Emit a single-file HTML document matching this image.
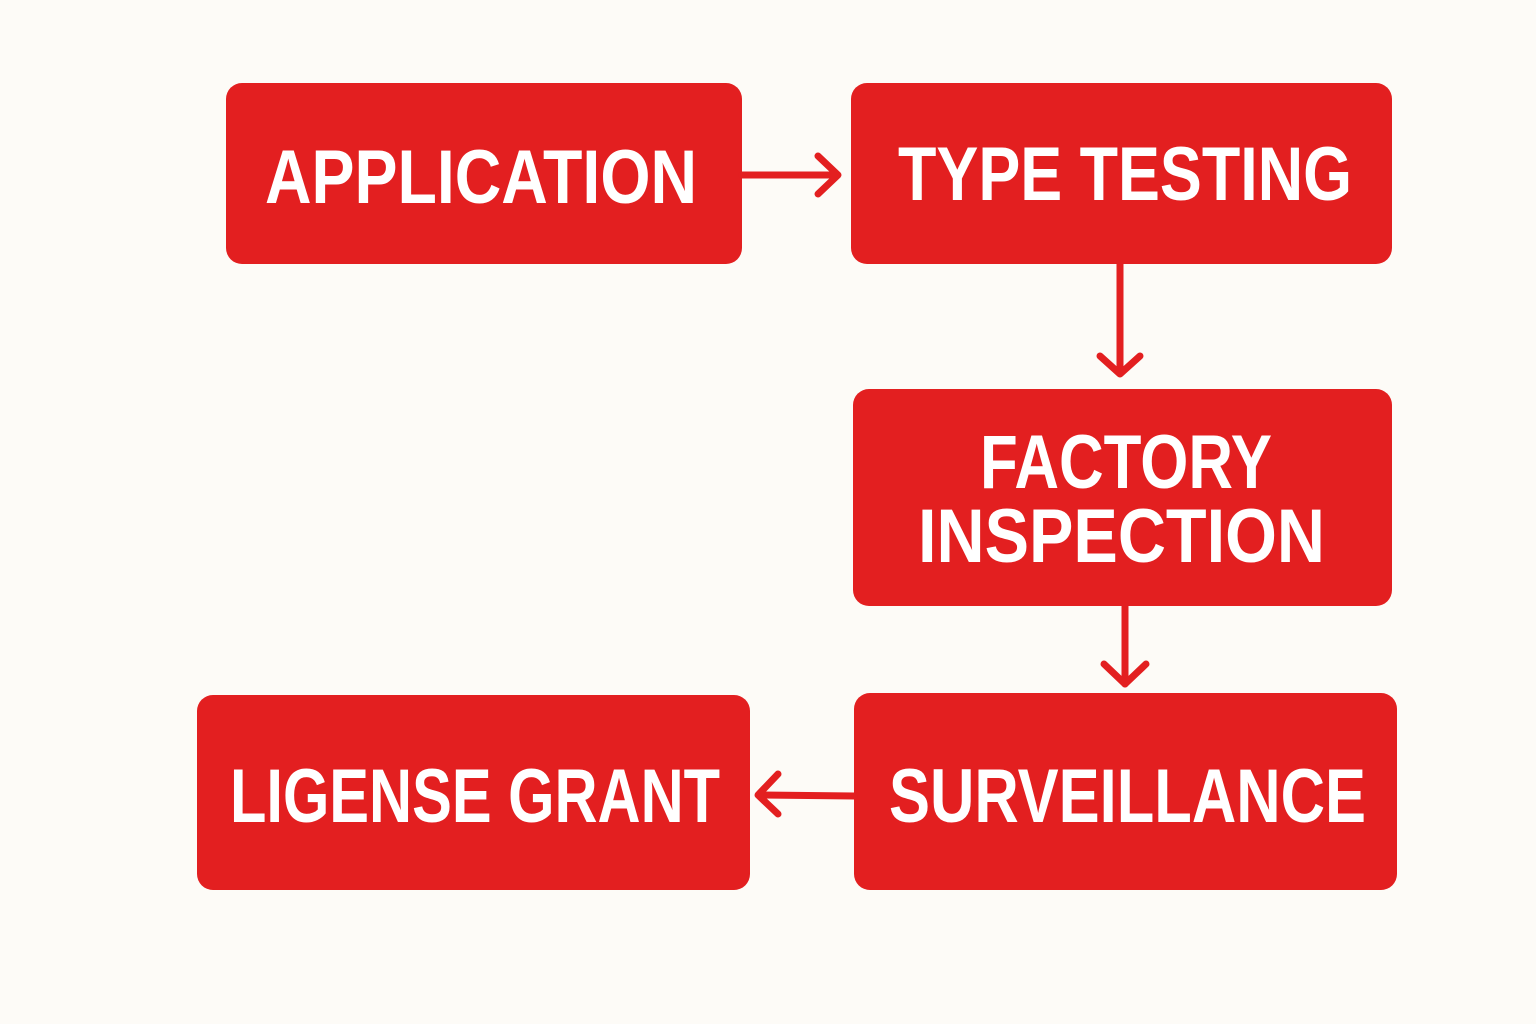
<!DOCTYPE html>
<html><head><meta charset="utf-8"><style>
html,body{margin:0;padding:0;background:#fdfbf7;}
svg{display:block}
text{font-family:"Liberation Sans",sans-serif;font-weight:bold;fill:#fff;}
</style></head><body>
<svg width="1536" height="1024" viewBox="0 0 1536 1024">
<rect width="1536" height="1024" fill="#fdfbf7"/>
<g fill="#e31f20">
<rect x="226" y="83" width="516" height="181" rx="16"/>
<rect x="851" y="83" width="541" height="181" rx="16"/>
<rect x="853" y="389" width="539" height="217" rx="16"/>
<rect x="854" y="693" width="543" height="197" rx="16"/>
<rect x="197" y="695" width="553" height="195" rx="16"/>
</g>
<g stroke="#e31f20" stroke-width="7" fill="none" stroke-linecap="round" stroke-linejoin="round">
<line x1="742" y1="175" x2="836" y2="175"/><polyline points="818,156 838,175 818,194"/>
<line x1="1120" y1="264" x2="1120" y2="372"/><polyline points="1100,356 1120,374 1140,356"/>
<line x1="1125" y1="606" x2="1125" y2="684"/><polyline points="1104,664 1125,684 1146,664"/>
<line x1="854" y1="796" x2="760" y2="795"/><polyline points="778,774 758,795 778,814"/>
</g>
<text x="265" y="203" font-size="76" textLength="432" lengthAdjust="spacingAndGlyphs">APPLICATION</text>
<text x="898" y="200" font-size="76" textLength="454" lengthAdjust="spacingAndGlyphs">TYPE TESTING</text>
<text x="980" y="488" font-size="76" textLength="292" lengthAdjust="spacingAndGlyphs">FACTORY</text>
<text x="918" y="562" font-size="76" textLength="407" lengthAdjust="spacingAndGlyphs">INSPECTION</text>
<text x="230" y="822" font-size="76" textLength="490" lengthAdjust="spacingAndGlyphs">LIGENSE GRANT</text>
<text x="889" y="822" font-size="76" textLength="477" lengthAdjust="spacingAndGlyphs">SURVEILLANCE</text>
</svg>
</body></html>
